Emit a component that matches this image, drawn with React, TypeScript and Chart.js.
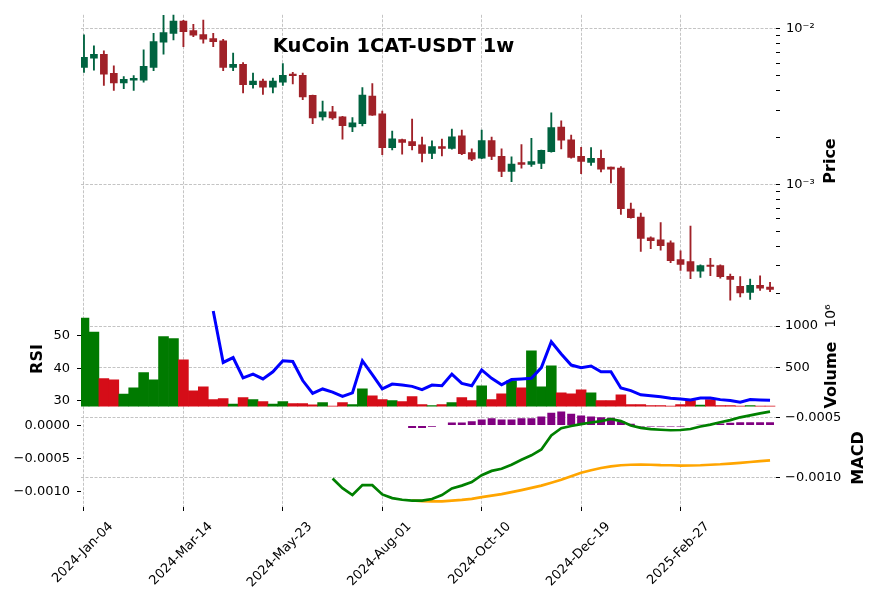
import React, { useEffect, useRef } from 'react';
import { Chart, registerables } from 'chart.js';

Chart.register(...registerables);

const chartTitle = 'KuCoin 1CAT-USDT 1w';

// weekly candles, index 0 = 2024-Jan-04
const xTickIndex = [0, 10, 20, 30, 40, 50, 60];
const xTickLabels = ['2024-Jan-04', '2024-Mar-14', '2024-May-23', '2024-Aug-01', '2024-Oct-10', '2024-Dec-19', '2025-Feb-27'];

const openP = [
  5.64e-3, 6.47e-3, 6.83e-3, 5.16e-3, 4.48e-3, 4.66e-3, 4.66e-3, 5.64e-3, 8.18e-3, 9.33e-3,
  11.2e-3, 9.72e-3, 9.15e-3, 8.63e-3, 8.34e-3, 5.64e-3, 5.89e-3, 4.36e-3, 4.60e-3, 4.21e-3,
  4.53e-3, 5.11e-3, 5.02e-3, 3.73e-3, 2.71e-3, 2.92e-3, 2.71e-3, 2.34e-3, 2.45e-3, 3.69e-3,
  2.84e-3, 1.72e-3, 1.94e-3, 1.88e-3, 1.79e-3, 1.58e-3, 1.75e-3, 1.70e-3, 2.05e-3, 1.60e-3,
  1.47e-3, 1.91e-3, 1.51e-3, 1.21e-3, 1.38e-3, 1.34e-3, 1.36e-3, 1.62e-3, 2.33e-3, 1.93e-3,
  1.51e-3, 1.38e-3, 1.47e-3, 1.29e-3, 1.27e-3, 0.693e-3, 0.615e-3, 0.452e-3, 0.44e-3, 0.42e-3,
  0.328e-3, 0.318e-3, 0.276e-3, 0.302e-3, 0.30e-3, 0.256e-3, 0.221e-3, 0.202e-3, 0.224e-3, 0.218e-3,
];
const highP = [
  9.12e-3, 7.76e-3, 7.21e-3, 5.78e-3, 4.92e-3, 4.99e-3, 7.31e-3, 9.33e-3, 12.2e-3, 12.4e-3,
  11.3e-3, 10.65e-3, 11.35e-3, 9.33e-3, 8.55e-3, 6.96e-3, 6.05e-3, 5.19e-3, 4.75e-3, 4.82e-3,
  5.97e-3, 5.24e-3, 5.19e-3, 3.75e-3, 3.42e-3, 3.17e-3, 2.73e-3, 2.68e-3, 4.19e-3, 4.44e-3,
  2.95e-3, 2.20e-3, 1.95e-3, 2.62e-3, 2.01e-3, 1.90e-3, 1.95e-3, 2.26e-3, 2.23e-3, 1.69e-3,
  2.23e-3, 2.01e-3, 1.69e-3, 1.50e-3, 1.80e-3, 1.97e-3, 1.66e-3, 2.88e-3, 2.56e-3, 2.07e-3,
  1.73e-3, 1.72e-3, 1.66e-3, 1.29e-3, 1.30e-3, 0.757e-3, 0.654e-3, 0.459e-3, 0.567e-3, 0.433e-3,
  0.374e-3, 0.538e-3, 0.304e-3, 0.334e-3, 0.304e-3, 0.265e-3, 0.255e-3, 0.246e-3, 0.258e-3, 0.234e-3,
];
const lowP = [
  5.24e-3, 5.42e-3, 4.32e-3, 4.01e-3, 4.11e-3, 4.01e-3, 4.53e-3, 5.37e-3, 6.86e-3, 8.47e-3,
  7.65e-3, 8.89e-3, 8.06e-3, 7.65e-3, 5.37e-3, 5.37e-3, 3.87e-3, 4.15e-3, 3.78e-3, 3.87e-3,
  4.32e-3, 4.42e-3, 3.50e-3, 2.45e-3, 2.58e-3, 2.61e-3, 1.95e-3, 2.18e-3, 2.37e-3, 2.77e-3,
  1.55e-3, 1.66e-3, 1.56e-3, 1.66e-3, 1.39e-3, 1.46e-3, 1.52e-3, 1.68e-3, 1.55e-3, 1.42e-3,
  1.46e-3, 1.44e-3, 1.12e-3, 1.04e-3, 1.27e-3, 1.30e-3, 1.26e-3, 1.61e-3, 1.69e-3, 1.47e-3,
  1.17e-3, 1.32e-3, 1.20e-3, 1.02e-3, 0.641e-3, 0.606e-3, 0.370e-3, 0.386e-3, 0.377e-3, 0.314e-3,
  0.279e-3, 0.247e-3, 0.252e-3, 0.259e-3, 0.249e-3, 0.18e-3, 0.189e-3, 0.182e-3, 0.208e-3, 0.204e-3,
];
const closeP = [
  6.54e-3, 6.83e-3, 5.11e-3, 4.48e-3, 4.73e-3, 4.80e-3, 5.72e-3, 8.26e-3, 9.43e-3, 11.2e-3,
  9.57e-3, 9.07e-3, 8.55e-3, 8.26e-3, 5.64e-3, 5.89e-3, 4.36e-3, 4.60e-3, 4.21e-3, 4.60e-3,
  5.02e-3, 4.99e-3, 3.64e-3, 2.67e-3, 2.92e-3, 2.67e-3, 2.38e-3, 2.48e-3, 3.75e-3, 2.78e-3,
  1.72e-3, 1.96e-3, 1.86e-3, 1.77e-3, 1.58e-3, 1.746e-3, 1.70e-3, 2.02e-3, 1.57e-3, 1.45e-3,
  1.91e-3, 1.51e-3, 1.21e-3, 1.35e-3, 1.34e-3, 1.40e-3, 1.65e-3, 2.31e-3, 1.92e-3, 1.49e-3,
  1.40e-3, 1.47e-3, 1.25e-3, 1.25e-3, 0.696e-3, 0.61e-3, 0.448e-3, 0.434e-3, 0.403e-3, 0.323e-3,
  0.305e-3, 0.276e-3, 0.30e-3, 0.297e-3, 0.255e-3, 0.245e-3, 0.20e-3, 0.224e-3, 0.215e-3, 0.211e-3,
];

// volume in units of 10^6
const volume = [
  1096, 928, 368, 352, 180, 256, 440, 352, 872, 848,
  592, 220, 268, 112, 124, 60, 136, 112, 88, 60,
  88, 64, 64, 50, 76, 36, 76, 52, 244, 160,
  112, 100, 88, 148, 52, 40, 52, 76, 136, 100,
  280, 112, 184, 340, 256, 700, 268, 520, 196, 184,
  232, 196, 100, 100, 172, 52, 52, 40, 40, 36,
  52, 100, 48, 112, 40, 40, 36, 40, 36, 36,
];

const rsiStart = 13;
const rsi = [
  57.7, 41.8, 43.3, 37.0, 38.2, 36.7, 38.9, 42.3, 42.1, 36.2,
  32.2, 33.6, 32.6, 31.3, 32.4, 42.3, 38.0, 33.6, 35.1, 34.8,
  34.4, 33.4, 34.8, 34.6, 38.2, 35.3, 34.6, 39.5, 36.9, 34.9,
  36.5, 36.7, 36.9, 40.2, 48.2, 44.4, 41.0, 40.2, 40.7, 38.9,
  38.9, 33.9, 33.1, 31.8, 31.5, 31.2, 30.7, 30.5, 30.2, 30.8,
  30.8, 30.3, 30.0, 29.5, 30.3, 30.2, 30.1,
];

const macdStart = 25;
const macd = [
  -0.001005, -0.001085, -0.001142, -0.00106, -0.00106, -0.001137, -0.001167, -0.001181, -0.001188, -0.001188,
  -0.001175, -0.001142, -0.001087, -0.001064, -0.001035, -0.000978, -0.000942, -0.000924, -0.000891, -0.00085,
  -0.000813, -0.000764, -0.000648, -0.000588, -0.00057, -0.000554, -0.000541, -0.000529, -0.000512, -0.000529,
  -0.000566, -0.000586, -0.000596, -0.000601, -0.000605, -0.000603, -0.000595, -0.000574, -0.000558, -0.000539,
  -0.000521, -0.000498, -0.000482, -0.000465, -0.000451,
];

const signalStart = 33;
const signal = [
  -0.001187, -0.001192, -0.001194, -0.001194, -0.001188, -0.001182, -0.001174, -0.001159, -0.001147, -0.001134,
  -0.001118, -0.001101, -0.001083, -0.001064, -0.00104, -0.001015, -0.000986, -0.000957, -0.000937, -0.000918,
  -0.000904, -0.000895, -0.000891, -0.00089, -0.000891, -0.000894, -0.000895, -0.000898, -0.000897, -0.000895,
  -0.000891, -0.000887, -0.000881, -0.000875, -0.000868, -0.000861, -0.000854,
];

const histStart = 33;
const hist = [
  -0.00004, -0.00004, -0.00002, 0.000005, 0.000045, 0.000045, 0.000065, 0.00009, 0.00011, 0.00009,
  0.00009, 0.00011, 0.00011, 0.000135, 0.00019, 0.00021, 0.000175, 0.00015, 0.000135, 0.000125,
  0.000115, 0.00006, 0.000025, -0.000015, -0.000015, -0.000015, -0.000015, -0.000015, -0.00001, 0.00001,
  0.00002, 0.00003, 0.00004, 0.00005, 0.00005, 0.00005, 0.00005,
];

const priceTicks = [2e-4, 3e-4, 4e-4, 5e-4, 6e-4, 7e-4, 8e-4, 9e-4, 1e-3, 2e-3, 3e-3, 4e-3, 5e-3, 6e-3, 7e-3, 8e-3, 9e-3, 1e-2];
const priceMajorTicks = [1e-3, 1e-2];
const priceMajorLabels = ['10⁻³', '10⁻²'];
const volTicks = [500, 1000];
const rsiTicks = [30, 40, 50];
const macdTicks = [-0.0005, -0.001];
const macdTickLabels = ['−0.0005', '−0.0010'];
const histTicks = [0, -0.0005, -0.001];
const histTickLabels = ['0.0000', '−0.0005', '−0.0010'];

const UP = '#006340';
const DOWN = '#a02128';
const VOL_UP = '#007a00';
const VOL_DOWN = '#d50d18';
const GRID = '#bdbdbd';
const FONT = '"DejaVu Sans", sans-serif';

const textPlugin = {
  id: 'panelTexts',
  afterDraw(chart: any) {
    const { ctx } = chart;
    const vtext = (t: string, x: number, y: number, font: string) => {
      ctx.save();
      ctx.translate(x, y);
      ctx.rotate(-Math.PI / 2);
      ctx.font = font;
      ctx.fillText(t, 0, 0);
      ctx.restore();
    };
    ctx.save();
    ctx.fillStyle = '#000';
    ctx.textAlign = 'center';
    ctx.textBaseline = 'middle';
    ctx.font = 'bold 19.5px ' + FONT;
    ctx.fillText(chartTitle, 393.5, 47);
    const lab = 'bold 16px ' + FONT;
    vtext('Price', 831, 161, lab);
    vtext('Volume', 832, 375, lab);
    vtext('10⁶', 831, 316, '14px ' + FONT);
    vtext('MACD', 858.5, 458, lab);
    vtext('RSI', 37.5, 359, lab);
    ctx.restore();
  },
};

export default function App() {
  const ref = useRef<HTMLCanvasElement | null>(null);

  useEffect(() => {
    if (!ref.current) return;
    const idx = openP.map((_, i) => i);
    const isUp = idx.map((i) => closeP[i] >= openP[i]);
    const candleColors = isUp.map((u) => (u ? UP : DOWN));
    const volColors = isUp.map((u) => (u ? VOL_UP : VOL_DOWN));

    const tickFont = { family: FONT, size: 13 };
    const setTicks = (vals: number[]) => (s: any) => {
      s.ticks = vals.map((v) => ({ value: v }));
    };
    const leftW = (s: any) => { s.width = 81; };
    const rightW = (s: any) => { s.width = 101; };

    const chart = new Chart(ref.current, {
      type: 'bar',
      data: {
        datasets: [
          {
            type: 'line', label: 'RSI', yAxisID: 'yRsi', xAxisID: 'x',
            data: rsi.map((v, k) => ({ x: rsiStart + k, y: v })),
            borderColor: '#0000ff', borderWidth: 3, pointRadius: 0, tension: 0, order: 0,
          },
          {
            type: 'line', label: 'MACD', yAxisID: 'yMacd', xAxisID: 'x',
            data: macd.map((v, k) => ({ x: macdStart + k, y: v })),
            borderColor: '#008000', borderWidth: 2.7, pointRadius: 0, tension: 0, order: 1,
          },
          {
            type: 'line', label: 'Signal', yAxisID: 'yMacd', xAxisID: 'x',
            data: signal.map((v, k) => ({ x: signalStart + k, y: v })),
            borderColor: '#ffa500', borderWidth: 2.7, pointRadius: 0, tension: 0, order: 2,
          },
          {
            type: 'bar', label: 'Body', yAxisID: 'yPrice', xAxisID: 'x',
            data: idx.map((i) => ({ x: i, y: [openP[i], closeP[i]] })),
            backgroundColor: candleColors, borderWidth: 0, barThickness: 7, grouped: false, order: 3,
          },
          {
            type: 'bar', label: 'Wick', yAxisID: 'yPrice', xAxisID: 'x',
            data: idx.map((i) => ({ x: i, y: [lowP[i], highP[i]] })),
            backgroundColor: candleColors, borderWidth: 0, barThickness: 1.2, grouped: false, order: 4,
          },
          {
            type: 'bar', label: 'Volume', yAxisID: 'yVol', xAxisID: 'x',
            data: idx.map((i) => ({ x: i, y: volume[i] })),
            backgroundColor: volColors, borderWidth: 0, barPercentage: 1, categoryPercentage: 1, grouped: false, order: 5,
          },
          {
            type: 'bar', label: 'Histogram', yAxisID: 'yHist', xAxisID: 'x',
            data: hist.map((v, k) => ({ x: histStart + k, y: v })),
            backgroundColor: '#800080', borderWidth: 0, barPercentage: 0.8, categoryPercentage: 1, grouped: false, order: 6,
          },
        ] as any,
      },
      options: {
        responsive: false,
        animation: false,
        devicePixelRatio: 1,
        events: [],
        layout: { padding: { top: 12, left: 0, right: 0, bottom: 0 } },
        plugins: { legend: { display: false }, tooltip: { enabled: false }, title: { display: false } },
        scales: {
          x: {
            type: 'linear', position: 'bottom', min: -0.3, max: 69.6, offset: false,
            afterBuildTicks: setTicks(xTickIndex),
            afterFit: (s: any) => { s.height = 93; },
            ticks: {
              autoSkip: false, maxRotation: 45, minRotation: 45, labelOffset: 27, padding: 8,
              font: tickFont, color: '#000',
              callback: (v: any) => { const k = xTickIndex.indexOf(v); return k >= 0 ? xTickLabels[k] : ''; },
            },
            grid: { offset: false, color: GRID, lineWidth: 0.9, drawTicks: true, tickLength: 4, tickColor: '#000', tickWidth: 1 },
            border: { display: false, dash: [3, 1.5] },
          },
          yPrice: {
            type: 'logarithmic', position: 'right', stack: 'R', stackWeight: 296, weight: 1,
            min: 1.576e-4, max: 0.01228, bounds: 'data',
            afterBuildTicks: setTicks(priceTicks),
            afterFit: rightW,
            ticks: {
              autoSkip: false, padding: 6, font: tickFont, color: '#000',
              callback: (v: any) => { const k = priceMajorTicks.indexOf(v); return k >= 0 ? priceMajorLabels[k] : ''; },
            },
            grid: {
              color: (c: any) => (c.tick && priceMajorTicks.indexOf(c.tick.value) >= 0 ? GRID : 'rgba(0,0,0,0)'),
              lineWidth: 0.9, tickLength: 4, tickColor: '#000', tickWidth: 1,
            },
            border: { display: false, dash: [3, 1.5] },
          },
          yVol: {
            type: 'linear', position: 'right', stack: 'R', stackWeight: 98, weight: 2,
            min: 29, max: 1204,
            afterBuildTicks: setTicks(volTicks),
            afterFit: rightW,
            ticks: { autoSkip: false, padding: 5, font: tickFont, color: '#000', callback: (v: any) => String(v) },
            grid: { color: GRID, lineWidth: 0.9, tickLength: 4, tickColor: '#000', tickWidth: 1 },
            border: { display: false, dash: [3, 1.5] },
          },
          yMacd: {
            type: 'linear', position: 'right', stack: 'R', stackWeight: 101, weight: 3,
            min: -0.001241, max: -0.000409,
            afterBuildTicks: setTicks(macdTicks),
            afterFit: rightW,
            ticks: {
              autoSkip: false, padding: 5, font: tickFont, color: '#000',
              callback: (v: any) => { const k = macdTicks.indexOf(v); return k >= 0 ? macdTickLabels[k] : ''; },
            },
            grid: { color: GRID, lineWidth: 0.9, tickLength: 4, tickColor: '#000', tickWidth: 1 },
            border: { display: false, dash: [3, 1.5] },
          },
          yPad: {
            type: 'linear', position: 'left', stack: 'L', stackWeight: 296, weight: 3,
            min: 0, max: 1,
            afterFit: leftW,
            ticks: { display: false },
            grid: { display: false },
            border: { display: false },
          },
          yRsi: {
            type: 'linear', position: 'left', stack: 'L', stackWeight: 98, weight: 2,
            min: 28.15, max: 58.3,
            afterBuildTicks: setTicks(rsiTicks),
            afterFit: leftW,
            ticks: { autoSkip: false, padding: 7, font: tickFont, color: '#000', callback: (v: any) => String(v) },
            grid: { drawOnChartArea: false, tickLength: 4, tickColor: '#000', tickWidth: 1 },
            border: { display: false },
          },
          yHist: {
            type: 'linear', position: 'left', stack: 'L', stackWeight: 101, weight: 1,
            min: -0.001231, max: 0.000285,
            afterBuildTicks: setTicks(histTicks),
            afterFit: leftW,
            ticks: {
              autoSkip: false, padding: 7, font: tickFont, color: '#000',
              callback: (v: any) => { const k = histTicks.indexOf(v); return k >= 0 ? histTickLabels[k] : ''; },
            },
            grid: { drawOnChartArea: false, tickLength: 4, tickColor: '#000', tickWidth: 1 },
            border: { display: false },
          },
        } as any,
      },
      plugins: [textPlugin],
    });
    return () => chart.destroy();
  }, []);

  return (
    <div style={{ position: 'absolute', left: 0, top: 0, width: 877, height: 600, background: '#fff' }}>
      <canvas ref={ref} width={877} height={600} style={{ display: 'block', width: 877, height: 600 }} />
    </div>
  );
}
